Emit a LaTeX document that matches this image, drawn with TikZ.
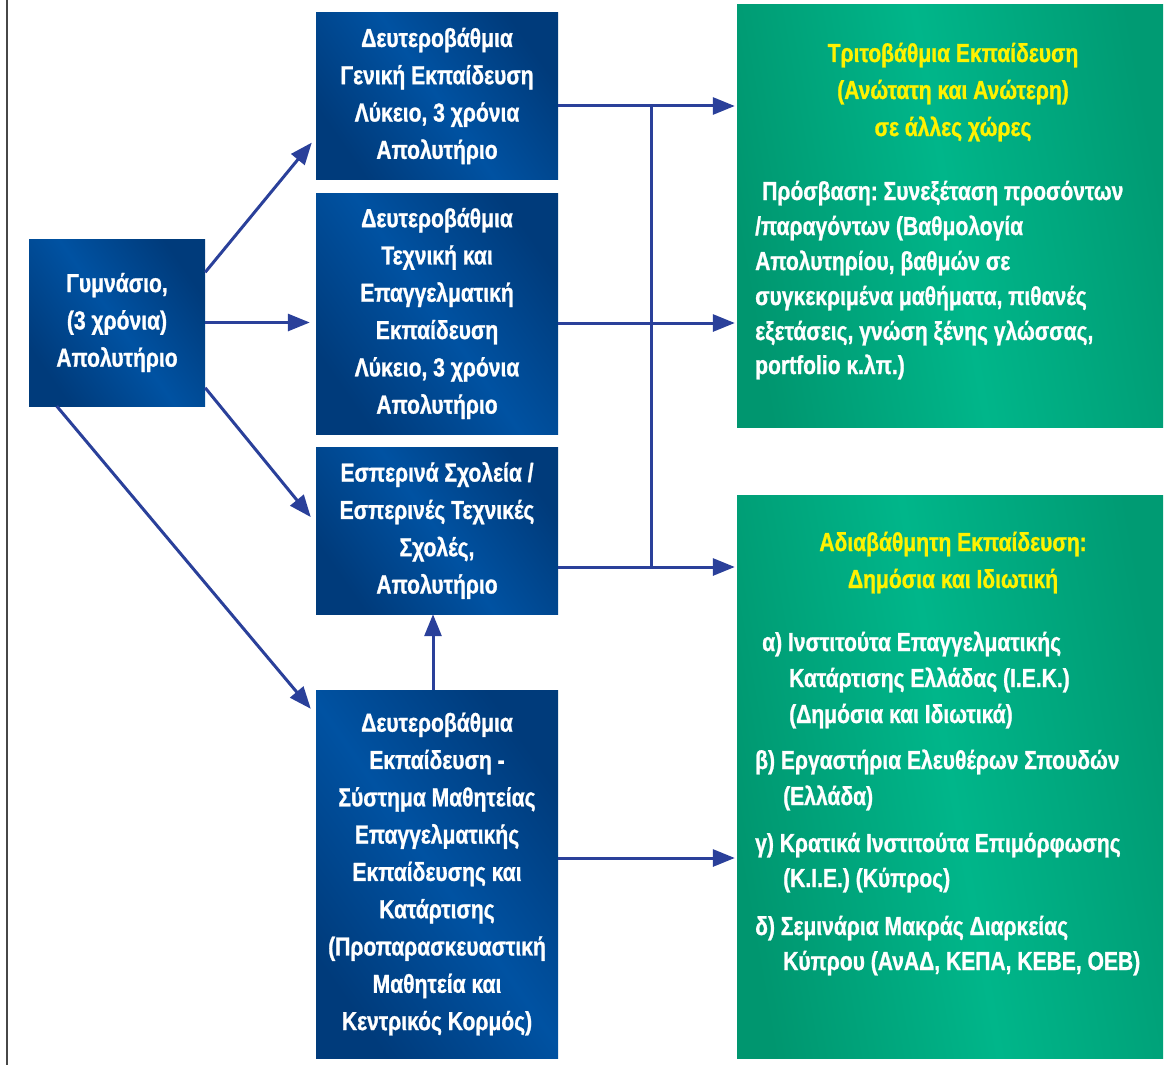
\documentclass[tikz,border=0pt]{standalone}
\usepackage{fontspec}
\newfontfamily\stenos{Liberation Sans}[FakeStretch=0.81,FakeBold=1]
\usetikzlibrary{arrows.meta,positioning,calc}
\definecolor{mple}{HTML}{003B7B}
\definecolor{mplef}{HTML}{0052A2}
\definecolor{prasino}{HTML}{00966F}
\definecolor{prasinof}{HTML}{00B68A}
\definecolor{kitrino}{HTML}{FFF200}
\definecolor{velos}{HTML}{2A409A}
\definecolor{gkri}{HTML}{474747}
\newcommand{\grammata}{\stenos\bfseries\frenchspacing\fontsize{26}{37.3}\selectfont}
\tikzset{
  kouti/.style={left color=mple,right color=mple,middle color=mplef,shading angle=125,
    text=white,font=\grammata,align=center,inner sep=0pt},
  prasinokouti/.style={left color=prasino,right color=prasino!85!prasinof,middle color=prasinof,
    shading angle=100,inner sep=0pt},
  titlos/.style={kitrino,font=\grammata,anchor=base},
  keimeno/.style={white,font=\grammata,anchor=base west,inner sep=0pt},
  flecha/.style={velos,line width=3pt,-{Triangle[length=22pt,width=17pt]}},
  grammi/.style={velos,line width=3pt}
}

\begin{document}
\begin{tikzpicture}[x=1pt,y=-1pt]
  \useasboundingbox (0,0) rectangle (1171,1065);
  \draw[gkri,line width=2pt] (6.5,0) -- (6.5,1065);
  % koutia
  \node[kouti,minimum width=176pt,minimum height=167pt] (gym) at (117,322.5)
    {Γυμνάσιο,\\(3 χρόνια)\\Απολυτήριο};
  \node[kouti,minimum width=242pt,minimum height=166pt] (gen) at (437,96)
    {Δευτεροβάθμια\\Γενική Εκπαίδευση\\Λύκειο, 3 χρόνια\\Απολυτήριο};
  \node[kouti,minimum width=242pt,minimum height=241pt] (tec) at (437,313.5)
    {Δευτεροβάθμια\\Τεχνική και\\Επαγγελματική\\Εκπαίδευση\\Λύκειο, 3 χρόνια\\Απολυτήριο};
  \node[kouti,minimum width=242pt,minimum height=167pt] (esp) at (437,530.5)
    {Εσπερινά Σχολεία /\\Εσπερινές Τεχνικές\\Σχολές,\\Απολυτήριο};
  \node[kouti,minimum width=242pt,minimum height=368pt] (mat) at (437,874)
    {Δευτεροβάθμια\\Εκπαίδευση -\\Σύστημα Μαθητείας\\Επαγγελματικής\\Εκπαίδευσης και\\Κατάρτισης\\(Προπαρασκευαστική\\Μαθητεία και\\Κεντρικός Κορμός)};
  \node[prasinokouti,minimum width=426pt,minimum height=422pt] (tri) at (950,216) {};
  \node[prasinokouti,minimum width=426pt,minimum height=563pt] (adi) at (950,776.5) {};
  % tritovathmia
  \foreach \y/\t [count=\i] in {62/Τριτοβάθμια Εκπαίδευση,99/(Ανώτατη και Ανώτερη),136/σε άλλες χώρες}
    \node[titlos] (triT\i) at (953,\y) {\t};
  \foreach \x/\y/\t [count=\i] in {762/200/{Πρόσβαση: Συνεξέταση προσόντων},
      755/235/{/παραγόντων (Βαθμολογία},
      755/270/{Απολυτηρίου, βαθμών σε},
      755/305/{συγκεκριμένα μαθήματα, πιθανές},
      755/340/{εξετάσεις, γνώση ξένης γλώσσας,},
      755/374/{portfolio κ.λπ.)}}
    \node[keimeno] (triK\i) at (\x,\y) {\t};
  % adiavathmiti
  \foreach \y/\t [count=\i] in {551/Αδιαβάθμητη Εκπαίδευση:,588/Δημόσια και Ιδιωτική}
    \node[titlos] (adiT\i) at (953,\y) {\t};
  \foreach \x/\y/\t [count=\i] in {762/651/{α) Ινστιτούτα Επαγγελματικής},
      789/687/{Κατάρτισης Ελλάδας (Ι.Ε.Κ.)},
      789/723/{(Δημόσια και Ιδιωτικά)},
      755/769/{β) Εργαστήρια Ελευθέρων Σπουδών},
      783/805/{(Ελλάδα)},
      755/852/{γ) Κρατικά Ινστιτούτα Επιμόρφωσης},
      783/887/{(Κ.Ι.Ε.) (Κύπρος)},
      755/935/{δ) Σεμινάρια Μακράς Διαρκείας},
      783/970/{Κύπρου (ΑνΑΔ, ΚΕΠΑ, ΚΕΒΕ, ΟΕΒ)}}
    \node[keimeno] (adiK\i) at (\x,\y) {\t};
  % velh aristera
  \draw[flecha] ($(gym.north east)!0.2!(gym.south east)$) -- ($(gen.south west)!0.22!(gen.north west)+(-4,0)$);
  \draw[flecha,shorten >=6pt] (gym.east) -- (gym.east -| tec.west);
  \draw[flecha] ($(gym.south east)!0.11!(gym.north east)$) -- ($(esp.north west)!0.42!(esp.south west)+(-5,0)$);
  \draw[flecha] ($(gym.south west)+(28,0)$) -- ($(mat.north west)+(-5,19)$);
  \draw[flecha] ([xshift=-4pt]mat.north) -- ([xshift=-4pt]esp.south);
  % velh dexia
  \coordinate (sGen) at ($(gen.east)+(0,10)$);
  \coordinate (sTec) at ($(tec.east)+(0,9.5)$);
  \coordinate (sEsp) at ($(esp.east)+(0,36.5)$);
  \coordinate (sMat) at ($(mat.east)+(0,-16)$);
  \draw[grammi] ($(sGen)+(93,0)$) -- ($(sEsp)+(93,0)$);
  \draw[flecha,shorten >=2pt] (sGen) -- (sGen -| tri.west);
  \draw[flecha,shorten >=2pt] (sTec) -- (sTec -| tri.west);
  \draw[flecha,shorten >=2pt] (sEsp) -- (sEsp -| adi.west);
  \draw[flecha,shorten >=2pt] (sMat) -- (sMat -| adi.west);
\end{tikzpicture}
\end{document}
